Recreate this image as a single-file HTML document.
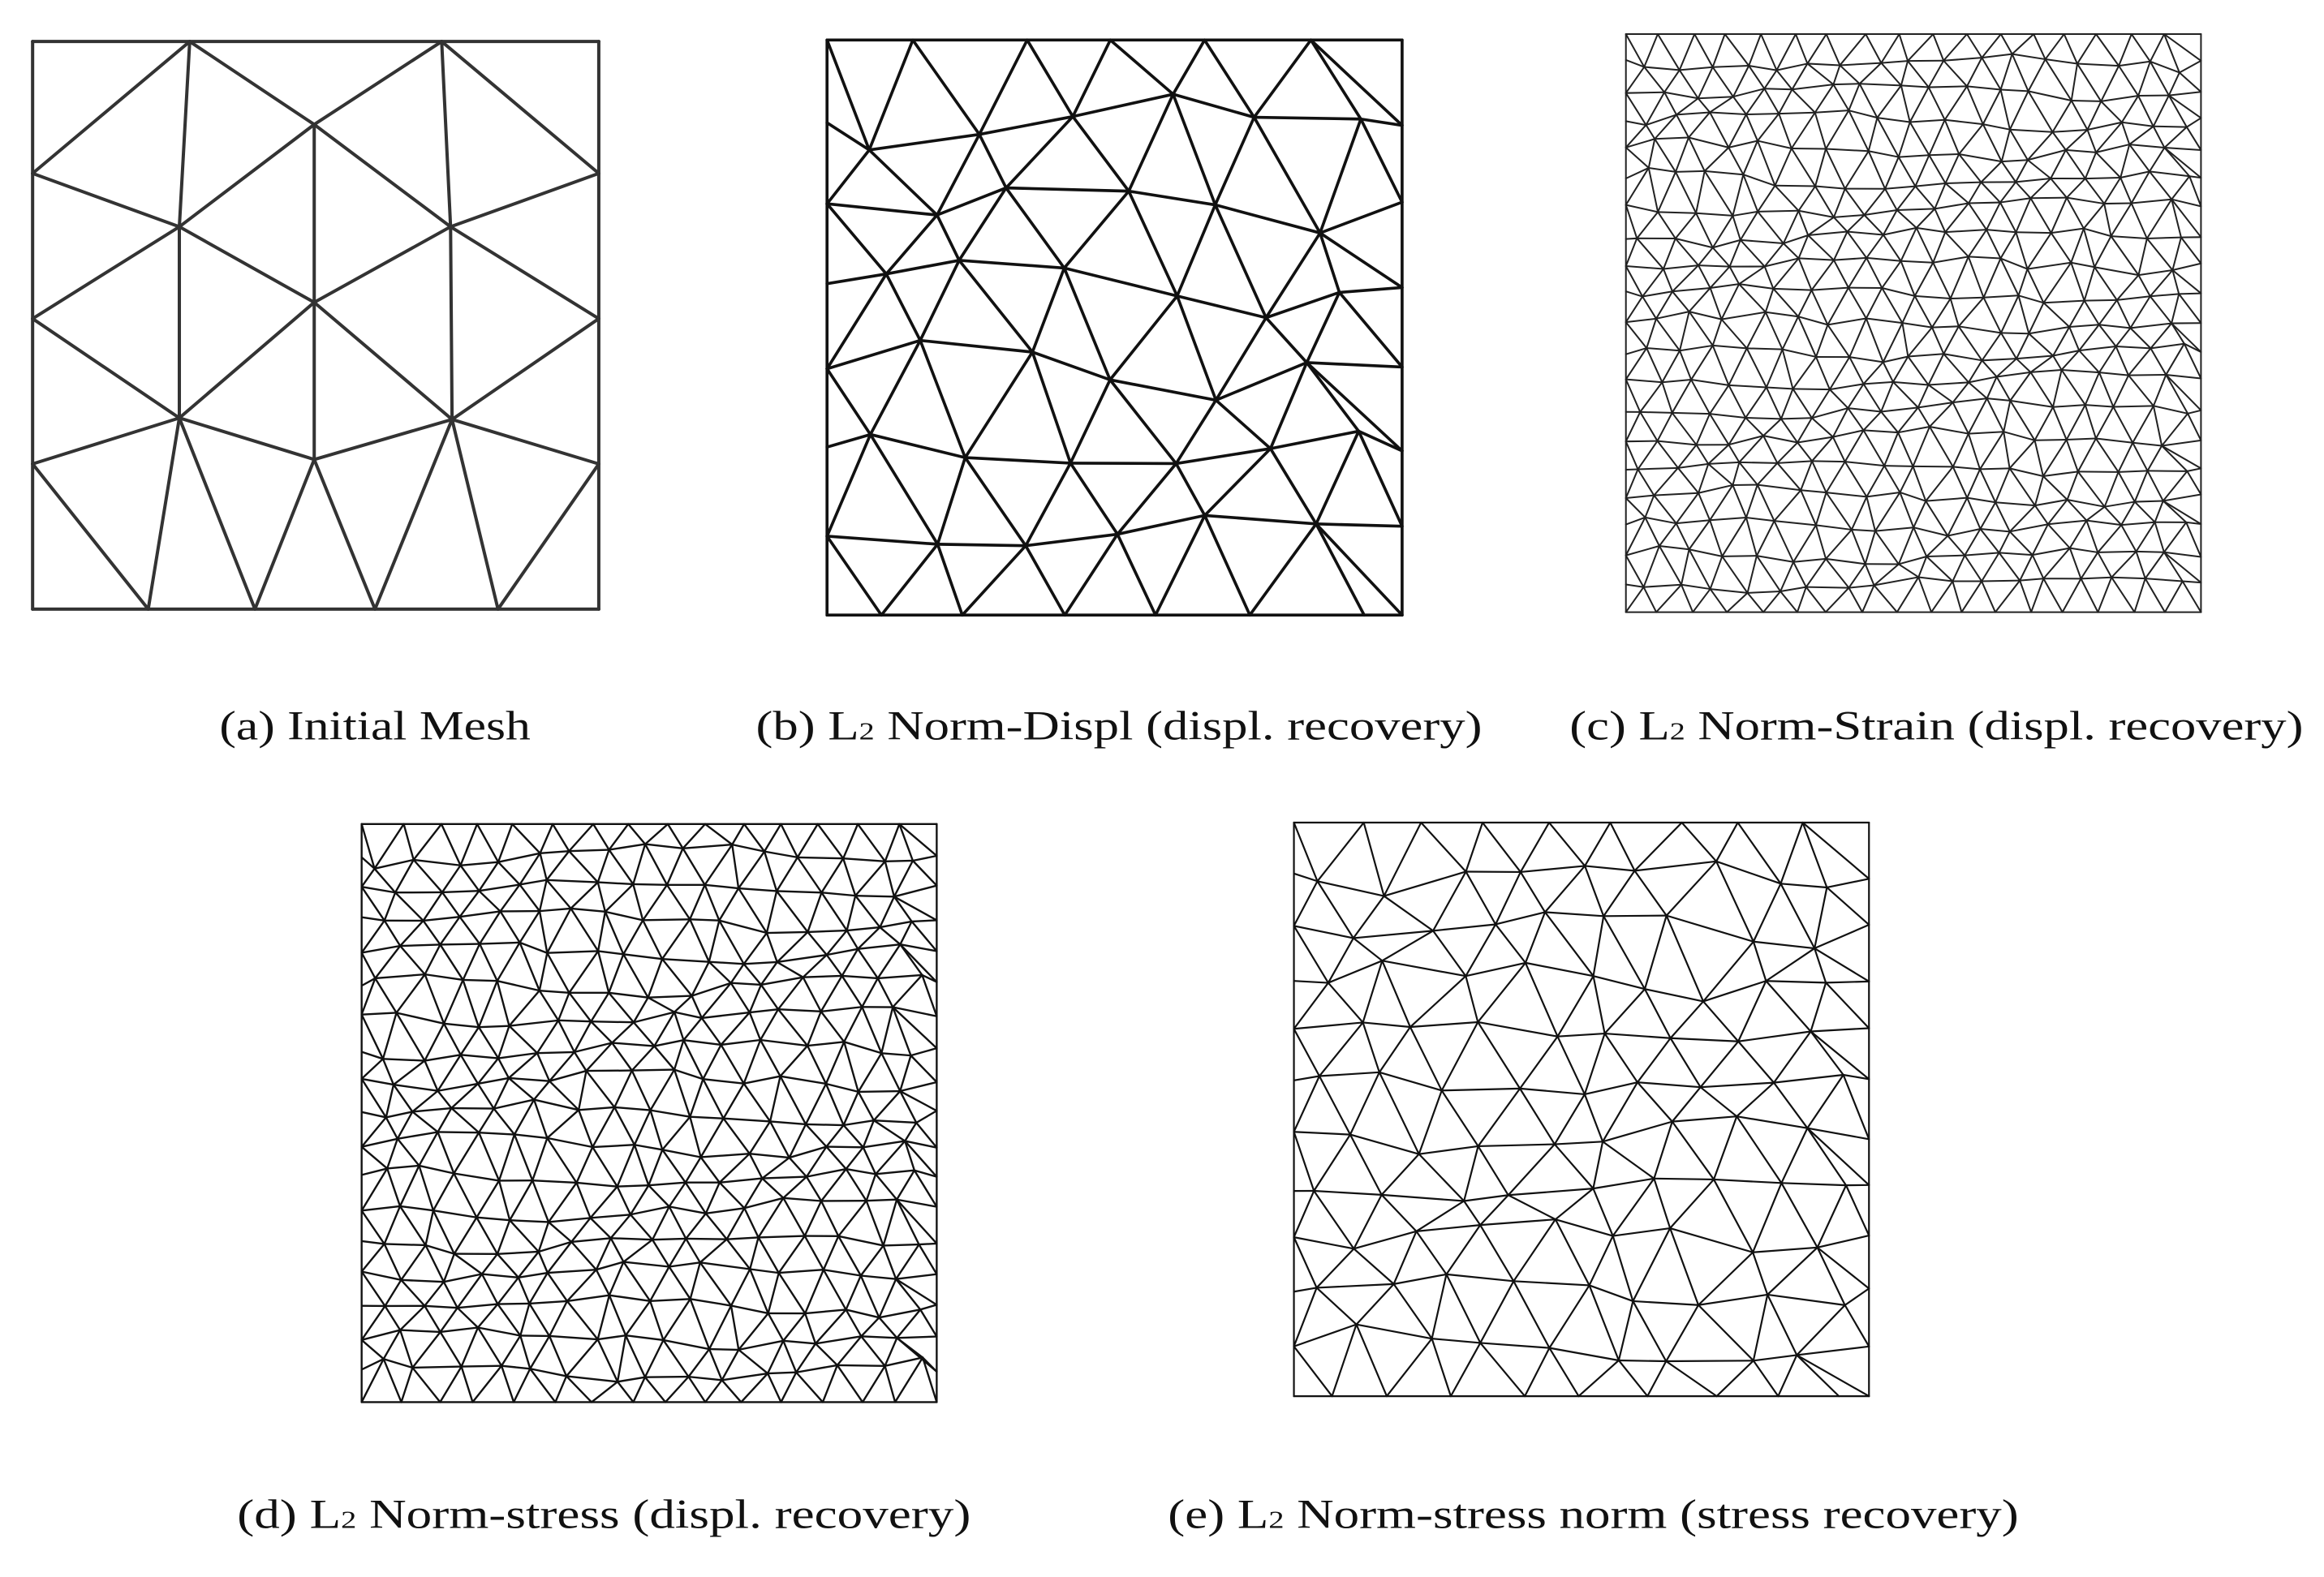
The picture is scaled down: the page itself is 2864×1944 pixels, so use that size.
<!DOCTYPE html>
<html><head><meta charset="utf-8"><style>
html,body{margin:0;padding:0;background:#fff}
svg{display:block}
text{font-family:"Liberation Serif",serif;font-size:28px;fill:#111}
</style></head><body>
<svg id="s" width="2864" height="1944" viewBox="0 0 1568 1064" preserveAspectRatio="none" xmlns="http://www.w3.org/2000/svg">
<rect width="1568" height="1064" fill="#fff"/>
<g id="a" stroke="#333" stroke-width="2.2" fill="none" stroke-linecap="round"></g>
<g id="m" fill="none" stroke-linecap="round"></g>
<text x="148" y="499" textLength="210" lengthAdjust="spacingAndGlyphs">(a) Initial Mesh</text>
<text x="510" y="499" textLength="490" lengthAdjust="spacingAndGlyphs">(b) L<tspan font-size="17">2</tspan> Norm-Displ (displ. recovery)</text>
<text x="1059" y="499" textLength="495" lengthAdjust="spacingAndGlyphs">(c) L<tspan font-size="17">2</tspan> Norm-Strain (displ. recovery)</text>
<text x="160" y="1031" textLength="495" lengthAdjust="spacingAndGlyphs">(d) L<tspan font-size="17">2</tspan> Norm-stress (displ. recovery)</text>
<text x="788" y="1031" textLength="574" lengthAdjust="spacingAndGlyphs">(e) L<tspan font-size="17">2</tspan> Norm-stress norm (stress recovery)</text>
</svg>
<script>
var NS="http://www.w3.org/2000/svg";
function line(g,x1,y1,x2,y2,c,w){var l=document.createElementNS(NS,"line");l.setAttribute("x1",x1);l.setAttribute("y1",y1);l.setAttribute("x2",x2);l.setAttribute("y2",y2);if(c){l.setAttribute("stroke",c);l.setAttribute("stroke-width",w);}g.appendChild(l);}
var P={t1:[22,28],t2:[128,28],t3:[298,28],t4:[404,28],l1:[22,117],l2:[22,215],l3:[22,313],l4:[22,411],r1:[404,117],r2:[404,215],r3:[404,313],r4:[404,411],b1:[100,411],b2:[172,411],b3:[253,411],b4:[336,411],A:[212,84],B:[121,153],C:[304,153],D:[212,204],E:[121,282],F:[305,283],G:[212,310]};
var E="t1-t4 t4-r4 r4-l4 l4-t1 t2-l1 t2-B t2-A t3-A t3-C t3-r1 l1-B A-B A-D A-C C-r1 B-l2 B-E B-D C-D C-F C-r2 l2-E D-E D-G D-F r2-F E-l3 E-G E-b1 E-b2 F-G F-r3 F-b3 F-b4 G-b2 G-b3 l3-b1 r3-b4".split(" ");
var ga=document.getElementById("a");
E.forEach(function(e){var p=e.split("-");var a=P[p[0]],b=P[p[1]];line(ga,a[0],a[1],b[0],b[1]);});
var seed=7;function rnd(){seed=(seed*16807)%2147483647;return seed/2147483647;}
var gm=document.getElementById("m");
function mesh(x0,y0,x1,y1,m,n,jit,col,w){
 var W=x1-x0,H=y1-y0,dx=W/m,dy=H/n,rows=[];
 for(var j=0;j<=n;j++){var r=[],y=y0+j*dy;var odd=j%2==1;
  var xs=[];if(odd){xs.push(0);for(var i=0;i<m;i++)xs.push((i+0.5)*dx);xs.push(W);}else{for(var i=0;i<=m;i++)xs.push(i*dx);}
  for(var k=0;k<xs.length;k++){var px=x0+xs[k],py=y;
   var bx=(k==0||k==xs.length-1),by=(j==0||j==n);
   var wave=Math.sin((px-x0)/W*6.3+j)*dy*0.25;
   if(!bx&&!by){px+=(rnd()-0.5)*dx*jit;py+=(rnd()-0.5)*dy*jit+wave;}
   else if(bx&&!by){py+=(rnd()-0.5)*dy*jit*0.6;}
   else if(by&&!bx){px+=(rnd()-0.5)*dx*jit*0.6;}
   r.push([px,py]);}
  rows.push(r);}
 line(gm,x0,y0,x1,y0,col,w);line(gm,x1,y0,x1,y1,col,w);line(gm,x1,y1,x0,y1,col,w);line(gm,x0,y1,x0,y0,col,w);
 for(var j=0;j<=n;j++){var r=rows[j];if(j>0&&j<n)for(var k=0;k<r.length-1;k++)line(gm,r[k][0],r[k][1],r[k+1][0],r[k+1][1],col,w);}
 for(var j=0;j<n;j++){var A=rows[j],B=rows[j+1],i=0,k=0;
  while(i<A.length-1||k<B.length-1){
   if(i==A.length-1)k++;else if(k==B.length-1)i++;
   else if(A[i+1][0]<B[k+1][0])i++;else k++;
   var bnd=(i==0&&k==0)||(i==A.length-1&&k==B.length-1);
   if(!bnd)line(gm,A[i][0],A[i][1],B[k][0],B[k][1],col,w);}}
}
mesh(558,27,946,415,6,7,0.35,"#111",2);
mesh(1097,23,1485,413,17,20,0.35,"#222",1.1);
mesh(244,556,632,946,15,18,0.35,"#111",1.3);
mesh(873,555,1261,942,9,11,0.4,"#111",1.2);
</script>
</body></html>
